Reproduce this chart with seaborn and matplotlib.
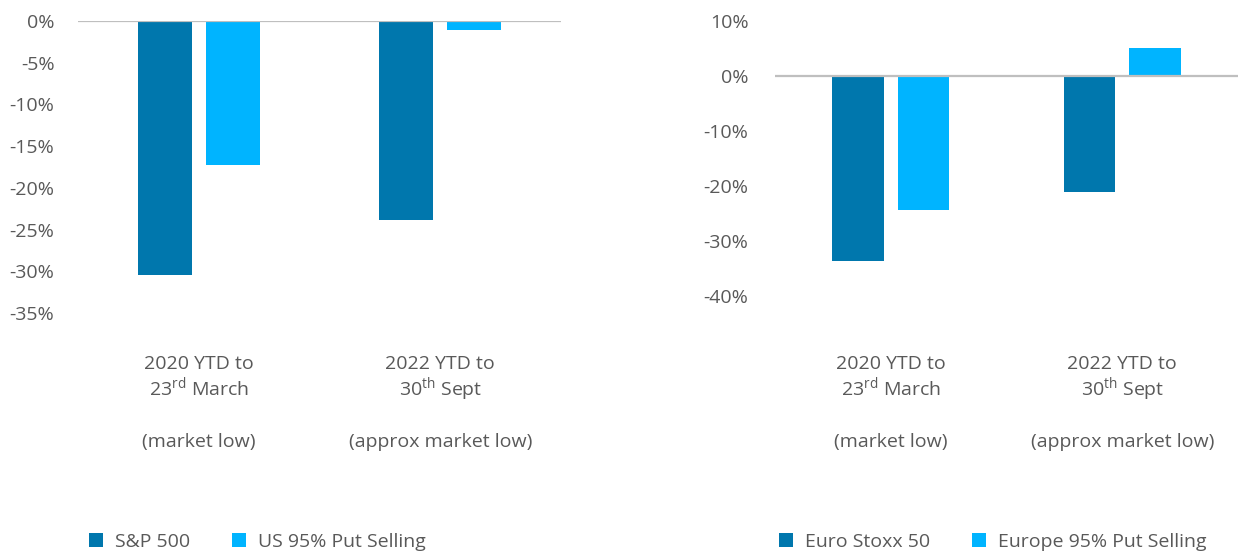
import numpy as np
import pandas as pd
import matplotlib
matplotlib.use('Agg')
import matplotlib.pyplot as plt
import matplotlib.transforms as mtransforms
from matplotlib.ticker import FuncFormatter
import seaborn as sns

# data
periods = ['2020', '2022']
period_lines = [
    ['2020 YTD to', '23$^{\\mathregular{rd}}$ March', '(market low)'],
    ['2022 YTD to', '30$^{\\mathregular{th}}$ Sept', '(approx market low)'],
]

us_series = ['S&P 500', 'US 95% Put Selling']
us_index = [-0.305, -0.239]
us_put = [-0.173, -0.011]

eu_series = ['Euro Stoxx 50', 'Europe 95% Put Selling']
eu_index = [-0.336, -0.211]
eu_put = [-0.244, 0.051]

palette = ['#0077AD', '#00B4FF']
text_grey = '#595959'
FS = 14

sns.set_style('white')
plt.rcParams['font.family'] = ['Open Sans', 'DejaVu Sans']
plt.rcParams['mathtext.fontset'] = 'custom'
plt.rcParams['mathtext.rm'] = 'Open Sans'
plt.rcParams['text.color'] = text_grey
plt.rcParams['xtick.color'] = text_grey
plt.rcParams['ytick.color'] = text_grey


def make_frame(series, index_vals, put_vals):
    return pd.DataFrame({
        'period': periods * 2,
        'series': [series[0]] * 2 + [series[1]] * 2,
        'value': index_vals + put_vals,
    })


def pct(v, pos):
    return f'{round(v * 100) + 0:.0f}%'


def draw_panel(fig, ax, df, ticks, ylim, ypad, legend_x):
    sns.barplot(data=df, x='period', y='value', hue='series', palette=palette,
                saturation=1, width=0.565, gap=0.21, ax=ax, linewidth=0)
    ax.axhline(0, color='#BFBFBF', lw=1.6, zorder=3)
    ax.set_ylim(*ylim)
    ax.set_xlim(-0.5, 1.5)
    ax.set_yticks(ticks)
    ax.yaxis.set_major_formatter(FuncFormatter(pct))
    ax.set_xticks([])
    ax.tick_params(axis='y', length=0, pad=ypad, labelsize=FS)
    ax.set_xlabel('')
    ax.set_ylabel('')
    sns.despine(ax=ax, left=True, bottom=True)

    # category labels, one text per line so the spacing stays even
    trans = mtransforms.blended_transform_factory(ax.transData, fig.transFigure)
    baselines = [369, 396, 447]
    for i, lines in enumerate(period_lines):
        for line, base in zip(lines, baselines):
            ax.text(i, 1 - base / 553, line, transform=trans, ha='center',
                    va='baseline', fontsize=FS, color=text_grey)

    leg = ax.get_legend()
    handles = leg.legend_handles
    labels = [t.get_text() for t in leg.get_texts()]
    leg.remove()
    fig.legend(handles, labels, loc='center left',
               bbox_to_anchor=(legend_x, 1 - 542 / 553), ncol=2,
               frameon=False, fontsize=FS, handlelength=0.72,
               handleheight=0.72, handletextpad=0.62,
               columnspacing=2.15, borderaxespad=0, borderpad=0)


fig = plt.figure(figsize=(12.4, 5.53), dpi=100)
ax1 = fig.add_axes([78 / 1240, 1 - 313 / 553, 483 / 1240, 292 / 553])
ax2 = fig.add_axes([775 / 1240, 1 - 296 / 553, 463 / 1240, 275 / 553])

draw_panel(fig, ax1, make_frame(us_series, us_index, us_put),
           np.arange(-0.35, 0.001, 0.05), (-0.35, 0.0), 17, 89 / 1240)
draw_panel(fig, ax2, make_frame(eu_series, eu_index, eu_put),
           np.arange(-0.4, 0.101, 0.1), (-0.4, 0.1), 19, 779 / 1240)

fig.savefig('out.png', dpi=100)
